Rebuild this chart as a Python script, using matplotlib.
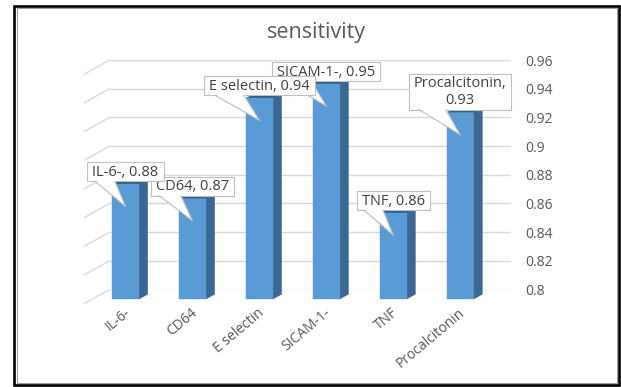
import matplotlib
matplotlib.use("Agg")
import matplotlib.pyplot as plt
from matplotlib.patches import Polygon, Rectangle
from matplotlib.lines import Line2D
from matplotlib.transforms import IdentityTransform
import numpy as np

# ---- data -------------------------------------------------------------
categories = ["IL-6-", "CD64", "E selectin", "SICAM-1-", "TNF", "Procalcitonin"]
sensitivity = [0.88, 0.87, 0.94, 0.95, 0.86, 0.93]
label_seps = [", ", ", ", ", ", ", ", ", ", ",\n"]
y_ticks = [0.80, 0.82, 0.84, 0.86, 0.88, 0.90, 0.92, 0.94, 0.96]
y_tick_labels = ["0.8", "0.82", "0.84", "0.86", "0.88", "0.9", "0.92", "0.94", "0.96"]
title = "sensitivity"

# ---- style ------------------------------------------------------------
W, H = 621, 387
FONT = ["Open Sans", "DejaVu Sans"]
TEXT_C = "#595959"
LABEL_C = "#404040"
GRID_C = "#d9d9d9"
BOX_EC = "#bfbfbf"
FRONT_C = "#5b9bd5"
SIDE_C = "#3a6794"
TOP_C = "#2f5b86"

plt.rcParams["font.family"] = FONT

fig = plt.figure(figsize=(W / 100, H / 100), dpi=100)
fig.patch.set_facecolor("white")

# back wall of the 3-D plot area
wall_l, wall_r, wall_t, wall_b = 109.5, 511.0, 60.0, 289.5
ax = fig.add_axes([wall_l / W, (H - wall_b) / H, (wall_r - wall_l) / W, (wall_b - wall_t) / H])
ax.set_xlim(0, len(categories))
ax.set_ylim(y_ticks[0], y_ticks[-1])
ax.set_facecolor("none")
for s in ax.spines.values():
    s.set_visible(False)
ax.set_xticks([])
ax.yaxis.tick_right()
ax.set_yticks(y_ticks)
ax.set_yticklabels(y_tick_labels)
ax.tick_params(axis="y", length=0, pad=10, labelsize=10, labelcolor=TEXT_C)
ax.grid(axis="y", color=GRID_C, lw=1.0)
ax.set_axisbelow(True)

ID = IdentityTransform()

# depth offsets in display pixels (x right, y up)
WALL_DEPTH = np.array([-25.0, -14.0])
BAR_FRONT = np.array([-17.5, -9.6])
BAR_BACK = np.array([-8.6, -4.8])
HALF_W = 0.2


def disp(x, y, off=(0.0, 0.0)):
    return ax.transData.transform((x, y)) + np.asarray(off)


# side wall lines of the grid
for yt in y_ticks:
    p0 = disp(0, yt)
    p1 = p0 + WALL_DEPTH
    ax.add_line(Line2D([p0[0], p1[0]], [p0[1], p1[1]], color=GRID_C, lw=1.0,
                       transform=ID, clip_on=False, zorder=1))

# 3-D columns
base = y_ticks[0]
tips = []
for i, v in enumerate(sensitivity):
    xc = i + 0.5
    xl, xr = xc - HALF_W, xc + HALF_W
    fl_b, fr_b = disp(xl, base, BAR_FRONT), disp(xr, base, BAR_FRONT)
    fl_t, fr_t = disp(xl, v, BAR_FRONT), disp(xr, v, BAR_FRONT)
    bl_t, br_t = disp(xl, v, BAR_BACK), disp(xr, v, BAR_BACK)
    br_b = disp(xr, base, BAR_BACK)
    ax.add_patch(Polygon([fr_b, fr_t, br_t, br_b], closed=True, fc=SIDE_C, ec=SIDE_C,
                         lw=0.3, transform=ID, clip_on=False, zorder=3))
    ax.add_patch(Polygon([fl_t, fr_t, br_t, bl_t], closed=True, fc=TOP_C, ec=TOP_C,
                         lw=0.3, transform=ID, clip_on=False, zorder=3))
    ax.add_patch(Polygon([fl_b, fl_t, fr_t, fr_b], closed=True, fc=FRONT_C, ec=FRONT_C,
                         lw=0.3, transform=ID, clip_on=False, zorder=4))
    ctop = disp(xc, v, BAR_FRONT)
    tips.append((ctop[0], ctop[1]))

    # category label under the column
    cb = disp(xc, base, BAR_FRONT)
    ax.text(cb[0] - 2, cb[1] - 6, categories[i], rotation=40, rotation_mode="anchor",
            ha="right", va="top", fontsize=10, color=TEXT_C, transform=ID, clip_on=False)

# callout data labels: text first, boxes sized from the rendered text
n = len(categories)
LINE_H = 17.0
BOX_H1 = 19.0
label_items = []
for i, v in enumerate(sensitivity):
    cx, top = tips[i]
    lines = f"{categories[i]}{label_seps[i]}{v:g}".split("\n")
    z = 10 + 3 * (n - i)
    box_bottom = top + 3
    arts = []
    for k, line in enumerate(lines):
        base_y = box_bottom + 5.2 + LINE_H * (len(lines) - 1 - k)
        arts.append(ax.text(cx, base_y, line, ha="center", va="baseline", fontsize=10.5,
                            color=LABEL_C, transform=ID, clip_on=False, zorder=z + 1))
    label_items.append((arts, box_bottom, len(lines), z))

fig.canvas.draw()
renderer = fig.canvas.get_renderer()
for i, (arts, box_bottom, nl, z) in enumerate(label_items):
    cx, top = tips[i]
    tw = max(a.get_window_extent(renderer).width for a in arts)
    bw = tw + 10
    bh = BOX_H1 + LINE_H * (nl - 1)
    x0 = cx - bw / 2
    ax.add_patch(Rectangle((x0, box_bottom), bw, bh, fc="white", ec=BOX_EC, lw=0.8,
                           transform=ID, clip_on=False, zorder=z))
    tip = (cx, top - 22)
    b1 = x0 + 0.10 * bw
    b2 = x0 + 0.36 * bw
    ax.add_patch(Polygon([(b1, box_bottom + 1.2), tip, (b2, box_bottom + 1.2)], closed=True,
                         fc="white", ec="none", transform=ID, clip_on=False, zorder=z + 0.5))
    for bx in (b1, b2):
        ax.add_line(Line2D([bx, tip[0]], [box_bottom, tip[1]], color=BOX_EC, lw=0.8,
                           transform=ID, clip_on=False, zorder=z + 0.6))

# title
fig.text(316.5 / W, 1 - 38 / H, title, ha="center", va="baseline", fontsize=15.5,
         color=TEXT_C)

# frame around the chart
fig.add_artist(Rectangle((14.3, H - 385.0), 605.0, 379.2, fill=False, ec="black",
                         lw=1.9, transform=ID))
fig.add_artist(Rectangle((16.6, H - 382.8), 600.5, 374.8, fill=False, ec="#8c8c8c",
                         lw=0.6, transform=ID))

fig.savefig("out.png", dpi=100)
